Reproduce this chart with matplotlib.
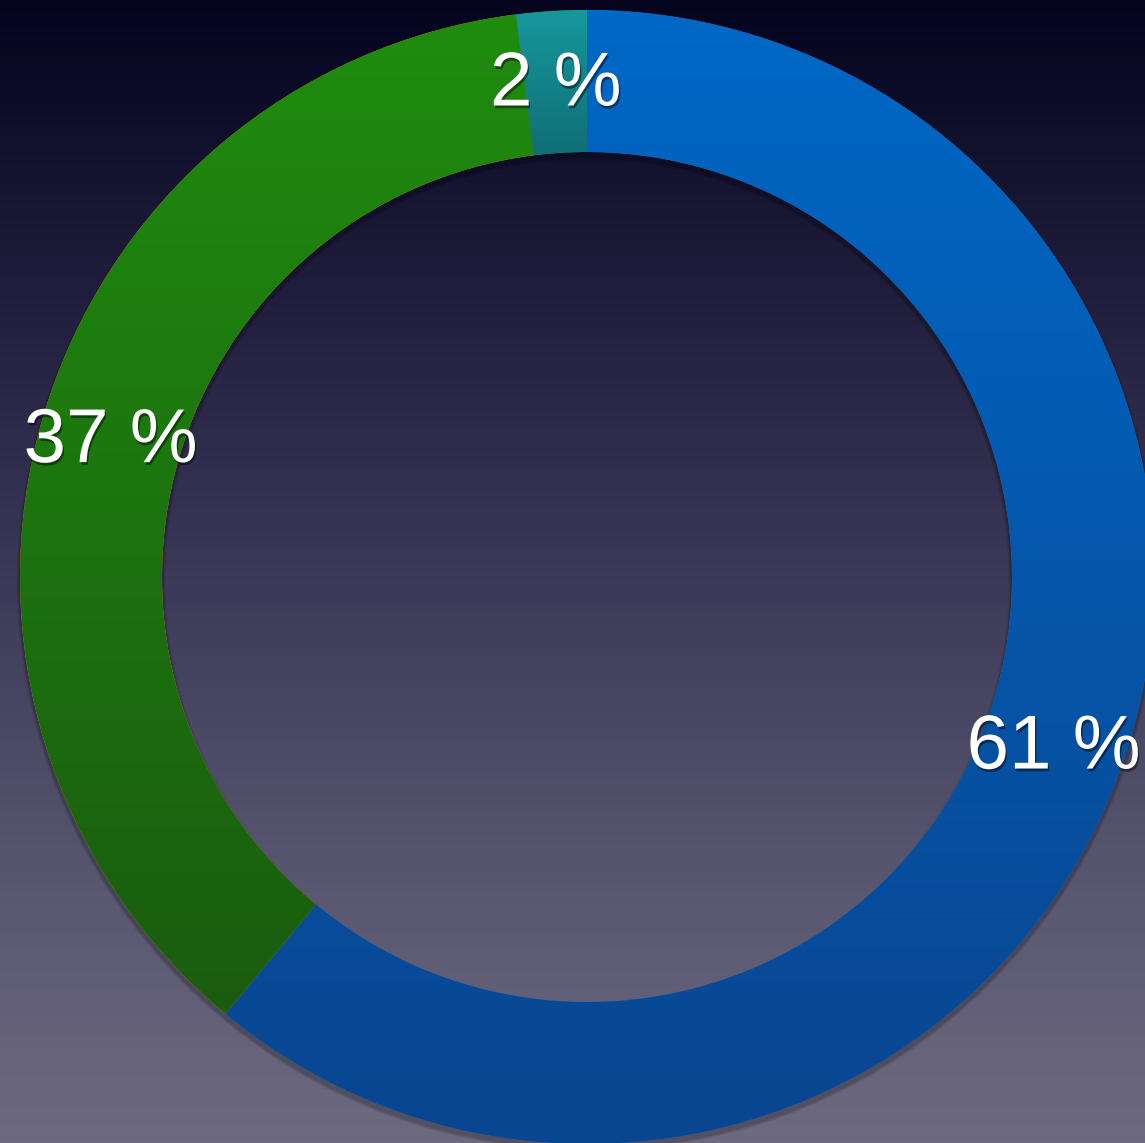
import numpy as np
import matplotlib.pyplot as plt
import matplotlib.patheffects as pe
from matplotlib.colors import LinearSegmentedColormap

# data
labels = ["61 %", "37 %", "2 %"]
values = [61, 37, 2]
tops = ["#0068c6", "#1f8c0e", "#16989d"]
bottoms = ["#0a4590", "#1a5c10", "#106e76"]

W, H = 1145, 1143
fig = plt.figure(figsize=(W / 100, H / 100), dpi=100)
ax = fig.add_axes([0, 0, 1, 1])
ax.axis("off")

# background gradient
bg = LinearSegmentedColormap.from_list(
    "bg", ["#6d6a80", "#57546f", "#3b3957", "#1f1d3b", "#04041f"])
grad = np.linspace(0, 1, 256).reshape(-1, 1)
ax.imshow(grad, extent=[0, W, 0, H], origin="lower", cmap=bg, aspect="auto", zorder=0)

cx, cy = 587, H - 577
R, width = 567, 142

# soft shadow under the ring
for k, a in [(7, 0.06), (5, 0.08), (3, 0.10)]:
    ax.pie([1], radius=R + k / 2, center=(cx, cy - 4), frame=False,
           colors=["black"], wedgeprops=dict(width=width + k, linewidth=0, alpha=a))

wedges, _ = ax.pie(values, startangle=90, counterclock=False, radius=R,
                   center=(cx, cy), frame=False,
                   wedgeprops=dict(width=width, linewidth=0))
ax.set_xlim(0, W)
ax.set_ylim(0, H)
ax.set_aspect("auto")

# vertical gradient inside each segment
for w, t, b in zip(wedges, tops, bottoms):
    ext = w.get_path().get_extents(w.get_transform() + ax.transData.inverted())
    cm = LinearSegmentedColormap.from_list("seg", [b, t])
    im = ax.imshow(grad, extent=[ext.x0, ext.x1, ext.y0, ext.y1], origin="lower",
                   cmap=cm, aspect="auto", zorder=2)
    im.set_clip_path(w)

# labels at mid ring
rm = R - width / 2
start = 90
for lab, v in zip(labels, values):
    ang = np.deg2rad(start - v * 3.6 / 2)
    start -= v * 3.6
    ax.text(cx + rm * np.cos(ang), cy + rm * np.sin(ang) - 4, lab, ha="center", va="center",
            color="white", fontsize=55, family=["Liberation Sans", "DejaVu Sans"], zorder=5,
            path_effects=[pe.withSimplePatchShadow(offset=(1, -2), shadow_rgbFace="black", alpha=0.45)])

fig.savefig("out.png", dpi=100)
